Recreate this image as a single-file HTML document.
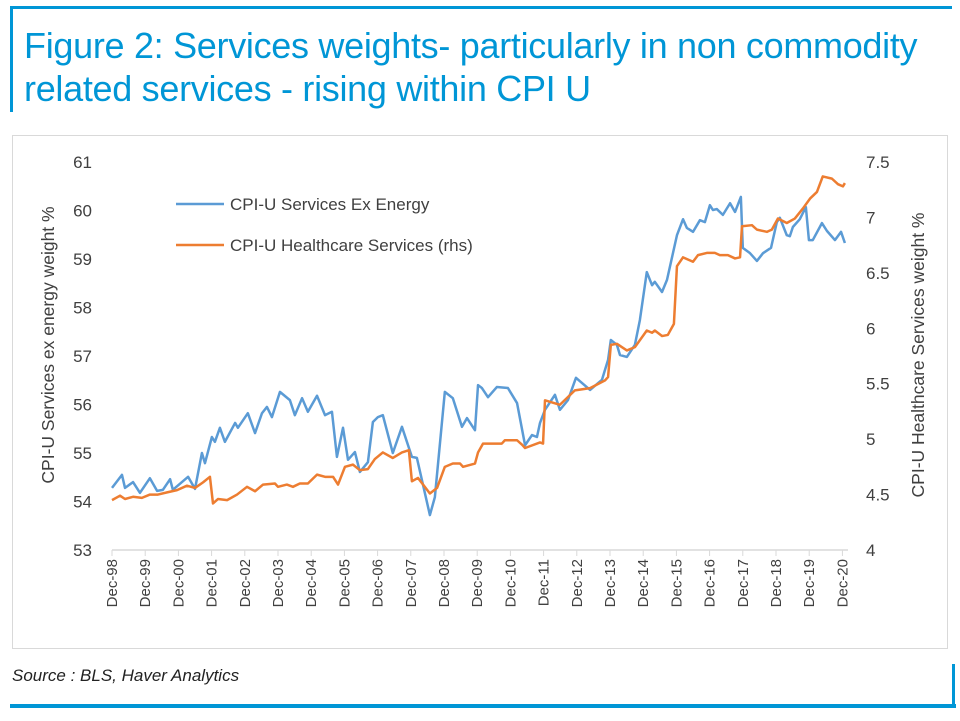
<!DOCTYPE html>
<html><head><meta charset="utf-8"><style>
body{margin:0;width:960px;height:721px;background:#fff;overflow:hidden;position:relative;font-family:"Liberation Sans",sans-serif}
.abs{position:absolute}
</style></head><body>
<div class="abs" style="left:10px;top:6px;width:942px;height:3px;background:#0096d6"></div>
<div class="abs" style="left:10px;top:6px;width:3px;height:106px;background:#0096d6"></div>
<div class="abs" style="left:24px;top:24px;width:930px;font-family:'Liberation Sans Narrow','Liberation Sans',sans-serif;font-size:36px;letter-spacing:-0.3px;line-height:43px;color:#0096d6">Figure 2: Services weights- particularly in non commodity related services - rising within CPI U</div>
<div class="abs" style="left:12px;top:135px;width:934px;height:512px;border:1px solid #d9d9d9"></div>
<svg class="abs" style="left:0;top:0" width="960" height="721" id="chart"></svg>
<div class="abs" style="left:12px;top:666px;font-family:'Liberation Sans Narrow','Liberation Sans',sans-serif;font-style:italic;font-size:17px;color:#222">Source : BLS, Haver Analytics</div>
<div class="abs" style="left:10px;top:704px;width:946px;height:4px;background:#0096d6"></div>
<div class="abs" style="left:952px;top:664px;width:3px;height:44px;background:#0096d6"></div>
<script>
const xTickLabels=["Dec-98","Dec-99","Dec-00","Dec-01","Dec-02","Dec-03","Dec-04","Dec-05","Dec-06","Dec-07","Dec-08","Dec-09","Dec-10","Dec-11","Dec-12","Dec-13","Dec-14","Dec-15","Dec-16","Dec-17","Dec-18","Dec-19","Dec-20"];
const leftTicks=[53,54,55,56,57,58,59,60,61];
const rightTicks=["4","4.5","5","5.5","6","6.5","7","7.5"];
// months since Dec-98
const servMonths=[0,3.6,4.7,7.6,10.1,13.7,16.3,18.4,21,22,27.5,30,32.5,33.6,36.1,37.2,39,40.8,44.5,45.5,49.1,51.7,54.2,56,57.8,60.7,64.3,66.1,68.7,70.8,74.1,77,79.5,81.3,83.5,85.3,87.8,89.6,92.5,94.3,96.1,97.9,101.5,104.8,108.4,110.2,114.9,116.7,120.3,123.2,126.5,128.3,131.2,132.3,133.7,135.9,139.1,143.1,146.4,149.3,151.8,153.6,154.7,156.5,160.1,161.9,164.8,167.7,172.8,177.1,179.3,180.3,182.5,183.6,186.1,189,190.8,193.3,195.2,196.2,198.8,200.6,204.2,206.4,207.8,210,212.5,214.3,216.1,217.2,218.6,220.8,223.4,225.2,227.3,228,230.6,233.1,235.3,238.2,240.3,241.4,243.9,245,246.1,248.6,250.8,251.9,253.3,256.6,258.4,261.3,263.5,264.9];
const servValues=[54.28,54.55,54.28,54.4,54.18,54.48,54.22,54.24,54.46,54.24,54.51,54.26,55,54.79,55.33,55.23,55.52,55.23,55.62,55.52,55.82,55.41,55.82,55.95,55.74,56.26,56.09,55.78,56.13,55.85,56.18,55.78,55.85,54.92,55.52,54.86,55.02,54.61,54.81,55.64,55.74,55.78,55,55.54,54.92,54.9,53.72,54.09,56.26,56.13,55.54,55.72,55.47,56.4,56.34,56.15,56.36,56.34,56.03,55.16,55.37,55.33,55.62,55.89,56.2,55.89,56.09,56.55,56.3,56.51,56.92,57.33,57.23,57.02,56.98,57.23,57.74,58.73,58.46,58.53,58.32,58.57,59.49,59.82,59.64,59.56,59.8,59.76,60.11,60.01,60.03,59.91,60.15,59.97,60.28,59.23,59.12,58.96,59.12,59.23,59.76,59.85,59.49,59.47,59.66,59.82,60.07,59.39,59.39,59.74,59.58,59.39,59.56,59.33];
const hcMonths=[0,2.9,4.7,7.6,10.8,13.7,16.6,19.9,23.5,27.1,30,32.9,35.4,36.5,38.3,41.6,45.2,48.8,51.7,54.6,58.9,60,63.2,65.4,67.9,70.8,74.1,77,79.9,81.7,84.2,87.1,89.6,92.5,95,97.9,101.5,104.8,107.3,108.4,110.6,114.9,117.5,120.3,123.2,125.8,126.9,131.2,132.3,134.1,137.3,140.9,142,146.4,148.2,149.3,154.7,155.8,156.5,161.9,167.3,172.8,178.2,179.3,180.3,182.5,186.1,189,193.3,195.2,196.2,198.8,200.9,203.1,204.2,206.4,210,211.8,215,217.9,219.7,222.6,225.2,227,227.7,231.3,233.1,236.7,238.5,240.7,243.9,246.8,249.7,252.3,254.8,256.9,260.2,262.4,264.2,264.9];
const hcValues=[4.45,4.49,4.46,4.48,4.47,4.5,4.5,4.52,4.54,4.58,4.56,4.61,4.66,4.42,4.46,4.45,4.5,4.57,4.53,4.59,4.6,4.57,4.59,4.57,4.6,4.6,4.68,4.66,4.66,4.59,4.75,4.77,4.72,4.73,4.82,4.88,4.83,4.88,4.9,4.62,4.65,4.51,4.56,4.75,4.78,4.78,4.75,4.78,4.88,4.96,4.96,4.96,4.99,4.99,4.95,4.92,4.97,4.96,5.35,5.31,5.44,5.46,5.53,5.56,5.85,5.86,5.8,5.83,5.98,5.96,5.98,5.93,5.94,6.04,6.56,6.64,6.6,6.66,6.68,6.68,6.66,6.66,6.63,6.64,6.92,6.93,6.89,6.87,6.89,6.99,6.95,6.99,7.08,7.17,7.23,7.37,7.35,7.3,7.28,7.31];

const NS="http://www.w3.org/2000/svg";
const svg=document.getElementById('chart');
const X0=112,PXM=33.2/12,YB=550,YT=162;
const xS=m=>X0+m*PXM;
const yL=v=>YB-(v-53)/8*(YB-YT);
const yR=v=>YB-(v-4)/3.5*(YB-YT);
function mk(tag,attrs,txt){const e=document.createElementNS(NS,tag);for(const k in attrs)e.setAttribute(k,attrs[k]);if(txt!==undefined)e.textContent=txt;svg.appendChild(e);return e;}
const axis=mk('line',{x1:X0,x2:848,y1:YB,y2:YB,stroke:'#d9d9d9','stroke-width':1.5});


xTickLabels.forEach((t,i)=>{
  const x=xS(i*12);
  const tk=mk('line',{x1:x,x2:x,y1:YB,y2:YB+6,stroke:'#d9d9d9','stroke-width':1});
  
  
  const lb=mk('text',{x:0,y:0,transform:`translate(${x+5},${YB+9}) rotate(-90)`,'text-anchor':'end','font-size':15,fill:'#404040','font-family':'Liberation Sans, sans-serif'},t);
  
  
});
leftTicks.forEach(v=>{
  const lb=mk('text',{x:92,y:yL(v)+6,'text-anchor':'end','font-size':17,fill:'#404040'},String(v));
  
  
});
rightTicks.forEach(v=>{
  const lb=mk('text',{x:866,y:yR(+v)+6,'text-anchor':'start','font-size':17,fill:'#404040'},v);
  
  
});
const lt=mk('text',{transform:'translate(54,345) rotate(-90)','text-anchor':'middle','font-size':17.5,fill:'#404040'},'CPI-U Services ex energy weight %');


const rt=mk('text',{transform:'translate(924,355) rotate(-90)','text-anchor':'middle','font-size':17.5,fill:'#404040'},'CPI-U Healthcare Services weight %');


const p1=mk('polyline',{points:servMonths.map((m,i)=>xS(m)+','+yL(servValues[i])).join(' '),fill:'none',stroke:'#5b9bd5','stroke-width':2.5,'stroke-linejoin':'round'});


const p2=mk('polyline',{points:hcMonths.map((m,i)=>xS(m)+','+yR(hcValues[i])).join(' '),fill:'none',stroke:'#ed7d31','stroke-width':2.5,'stroke-linejoin':'round'});


const l1=mk('line',{x1:176,x2:224,y1:204,y2:204,stroke:'#5b9bd5','stroke-width':2.5});


const t1=mk('text',{x:230,y:210,'font-size':17,fill:'#404040'},'CPI-U Services Ex Energy');


const l2=mk('line',{x1:176,x2:224,y1:245,y2:245,stroke:'#ed7d31','stroke-width':2.5});


const t2=mk('text',{x:230,y:251,'font-size':17,fill:'#404040'},'CPI-U Healthcare Services (rhs)');


</script>
</body></html>
